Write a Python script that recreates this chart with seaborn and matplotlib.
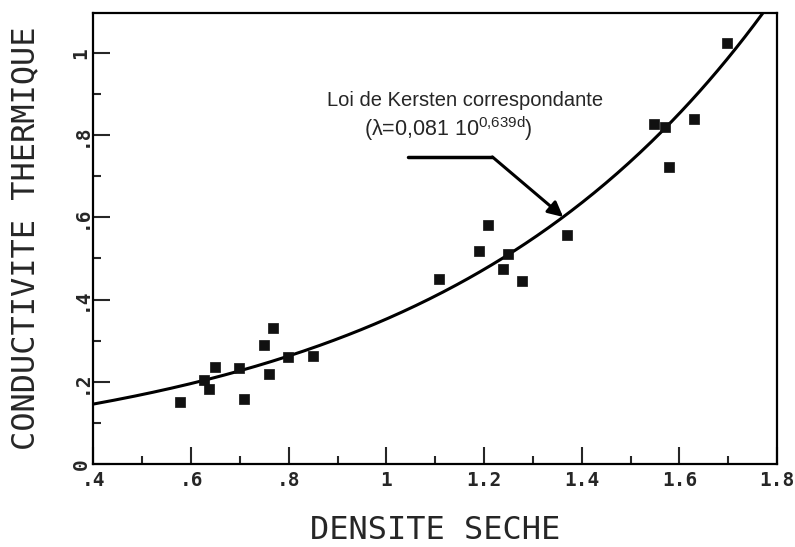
import numpy as np
import pandas as pd
import matplotlib
matplotlib.use("Agg")
import matplotlib.pyplot as plt
import seaborn as sns
from matplotlib.ticker import MultipleLocator, FixedLocator

# --- data ---
densite = [0.578, 0.626, 0.637, 0.648, 0.699, 0.708, 0.749, 0.760, 0.768, 0.799, 0.849,
           1.108, 1.189, 1.209, 1.248, 1.239, 1.278, 1.369,
           1.548, 1.570, 1.579, 1.630, 1.697]
conductivite = [0.150, 0.204, 0.183, 0.235, 0.234, 0.157, 0.289, 0.220, 0.331, 0.260, 0.262,
                0.450, 0.518, 0.581, 0.511, 0.474, 0.445, 0.556,
                0.826, 0.819, 0.723, 0.839, 1.025]
# Kersten law parameters (from annotation)
k_a = 0.081
k_b = 0.639
x_ticks = [0.4, 0.6, 0.8, 1.0, 1.2, 1.4, 1.6, 1.8]
x_tick_labels = [".4", ".6", ".8", "1", "1.2", "1.4", "1.6", "1.8"]
y_ticks = [0, 0.2, 0.4, 0.6, 0.8, 1.0]
y_tick_labels = ["0", ".2", ".4", ".6", ".8", "1"]

sns.set_style("white")
plt.rcParams["font.family"] = ["DejaVu Sans Mono", "DejaVu Sans"]

fig = plt.figure(figsize=(7.95, 5.47), dpi=100)
ax = fig.add_axes([0.1176, 0.1517, 0.9774 - 0.1176, 0.9762 - 0.1517])

df = pd.DataFrame({"d": densite, "k": conductivite})
sns.scatterplot(data=df, x="d", y="k", marker="s", s=55, color="#111111",
                edgecolor="#111111", linewidth=0.5, ax=ax, zorder=3)

dd = np.linspace(0.4, 1.8, 300)
curve = pd.DataFrame({"d": dd, "k": k_a * 10 ** (k_b * dd)})
sns.lineplot(data=curve, x="d", y="k", color="black", linewidth=2.2, ax=ax, zorder=2)

ax.set_xlim(0.4, 1.8)
ax.set_ylim(0, 1.097)

ax.xaxis.set_major_locator(FixedLocator(x_ticks))
ax.set_xticklabels(x_tick_labels, fontweight="bold")
ax.xaxis.set_minor_locator(MultipleLocator(0.1))
ax.yaxis.set_major_locator(FixedLocator(y_ticks))
ax.set_yticklabels(y_tick_labels, rotation=90, va="center", fontweight="bold")
ax.yaxis.set_minor_locator(MultipleLocator(0.1))

ax.tick_params(axis="x", which="major", pad=5)
ax.tick_params(axis="y", which="major", pad=2)
ax.tick_params(axis="both", which="major", direction="in", length=12, width=1.5,
               labelsize=14, bottom=True, left=True, top=False, right=False)
ax.tick_params(axis="both", which="minor", direction="in", length=6, width=1.5,
               bottom=True, left=True, top=False, right=False)
for sp in ax.spines.values():
    sp.set_linewidth(1.6)
    sp.set_color("black")

ax.set_xlabel("DENSITE SECHE", fontsize=23, labelpad=18)
ax.set_ylabel("CONDUCTIVITE THERMIQUE", fontsize=23, labelpad=22)

# annotation
ax.text(1.162, 0.883, "Loi de Kersten correspondante", ha="center", va="center",
        fontsize=14.5, family=["Liberation Sans", "DejaVu Sans"])
ax.text(1.126, 0.815, "(λ=0,081 10$^{\\mathregular{0{,}639d}}$)", ha="center", va="center",
        fontsize=15.5, family=["Liberation Sans", "DejaVu Sans"])
x_tip = 1.362
y_tip = k_a * 10 ** (k_b * x_tip)
ax.plot([1.044, 1.217], [0.747, 0.747], color="black", linewidth=2.5)
ax.annotate("", xy=(x_tip, y_tip), xytext=(1.217, 0.747),
            arrowprops=dict(arrowstyle="-|>,head_length=0.9,head_width=0.45",
                            color="black", linewidth=2.2, shrinkA=0, shrinkB=0))

fig.savefig("out.png", dpi=100)
